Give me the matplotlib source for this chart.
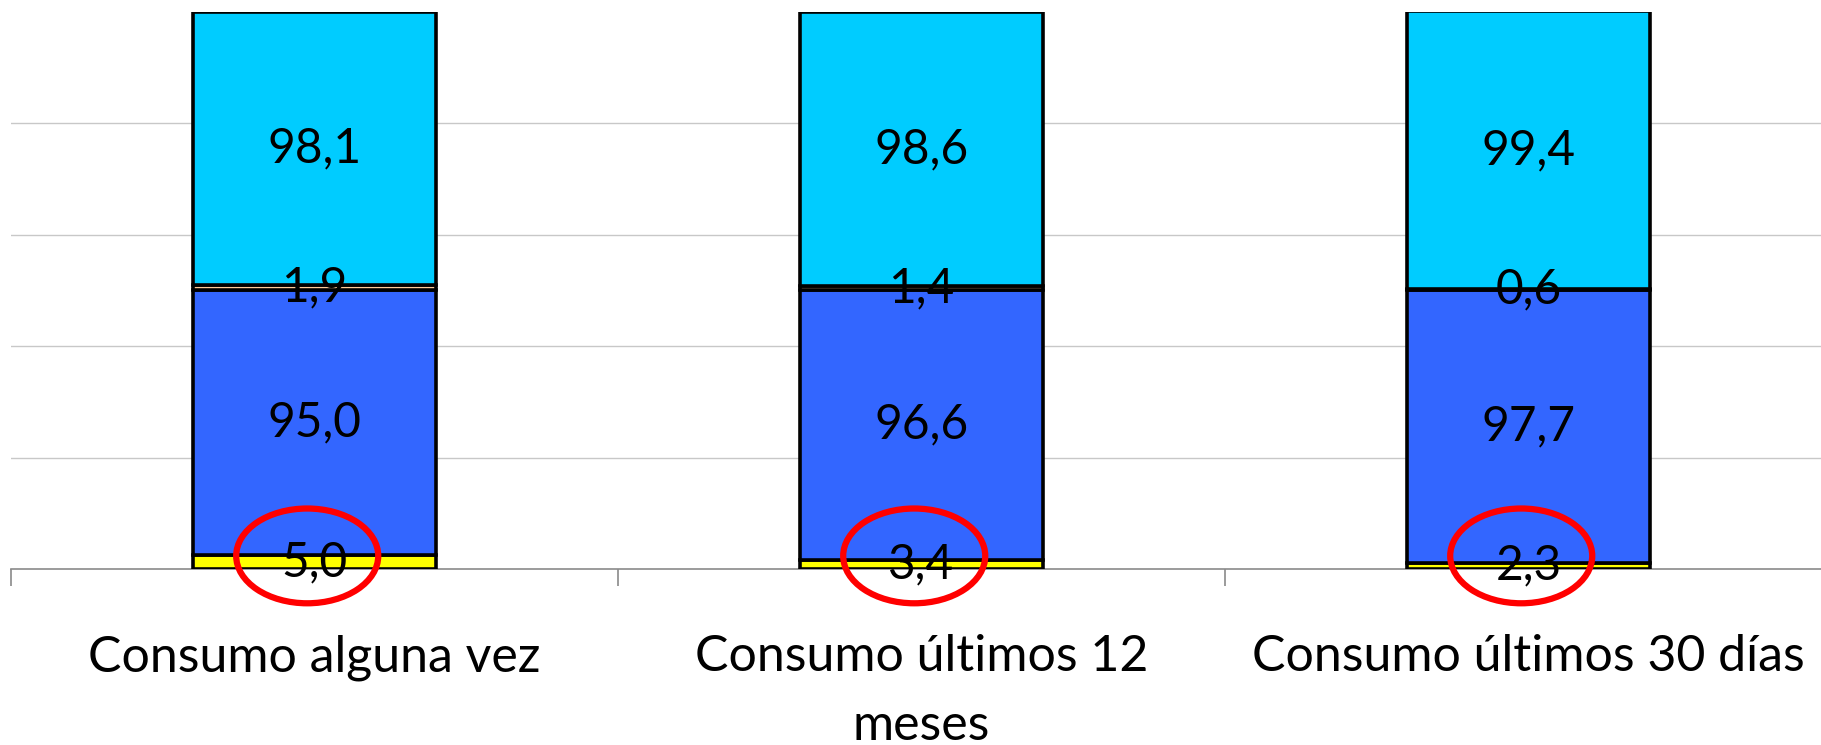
import numpy as np
import matplotlib.pyplot as plt
from matplotlib.patches import Ellipse

# Datos
categorias = ["Consumo alguna vez", "Consumo últimos 12\nmeses", "Consumo últimos 30 días"]
amarillo = [5.0, 3.4, 2.3]
azul = [95.0, 96.6, 97.7]
salmon = [1.9, 1.4, 0.6]
celeste = [98.1, 98.6, 99.4]

series = [amarillo, azul, salmon, celeste]
colores = ["#FFFF00", "#3366FF", "#FFCC99", "#00CCFF"]

plt.rcParams['font.family'] = ['Lato', 'DejaVu Sans']

fig = plt.figure(figsize=(18.21, 7.45), dpi=100)
ax = fig.add_axes([11 / 1821, 1 - 569 / 745, 1821 / 1821, (569 - 11.5) / 745])

x = np.arange(len(categorias))
base = np.zeros(len(categorias))
for vals, col in zip(series, colores):
    vals = np.array(vals)
    ax.bar(x, vals, 0.4, bottom=base, color=col, edgecolor='black', linewidth=2.6, zorder=3)
    for xi, b, v in zip(x, base, vals):
        ax.text(xi, b + v / 2, f"{v:.1f}".replace('.', ','), ha='center', va='center',
                fontsize=34.5, color='black', zorder=5)
    base = base + vals

# elipses rojas sobre la primera etiqueta
for xi in x:
    e = Ellipse((xi - 0.012, 4.7), 0.234, 34, fill=False, edgecolor='#FF0000',
                linewidth=4.5, zorder=6, clip_on=False)
    ax.add_patch(e)

ax.set_xlim(-0.5, 2.5)
ax.set_ylim(0, 200)
ax.set_yticks([40, 80, 120, 160])
ax.yaxis.grid(True, color='#c8c8c8', linewidth=1)
ax.tick_params(axis='y', left=False, labelleft=False)
for s in ['left', 'right', 'top']:
    ax.spines[s].set_visible(False)
ax.spines['bottom'].set_color('#8a8a8a')
ax.spines['bottom'].set_linewidth(1.2)

ax.set_xticks(x)
ax.set_xticklabels(categorias, fontsize=36, linespacing=1.62, va='top')
ax.set_xticks([-0.5, 0.5, 1.5, 2.5], minor=True)
ax.tick_params(axis='x', which='major', length=0, pad=47)
ax.tick_params(axis='x', which='minor', length=12, width=1.2, color='#8a8a8a', direction='out')

fig.savefig("out.png", dpi=100)
